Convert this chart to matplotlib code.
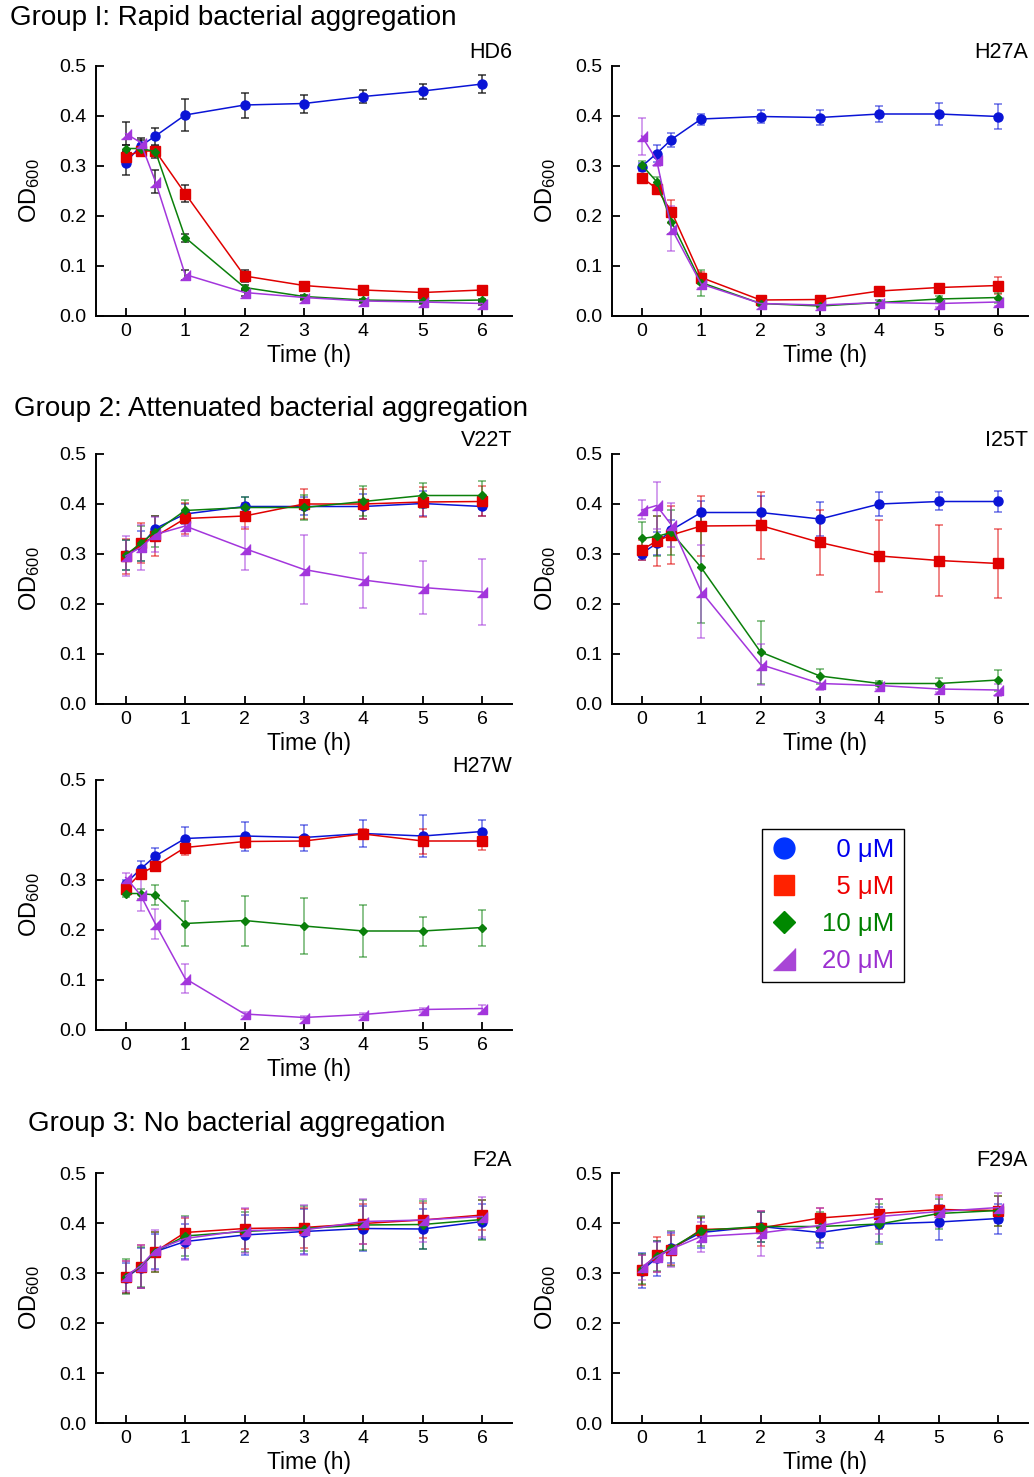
import matplotlib
matplotlib.use('Agg')
import matplotlib.pyplot as plt
from matplotlib.colors import to_rgba
from matplotlib.lines import Line2D

plt.rcParams['font.family'] = ['Liberation Sans', 'DejaVu Sans']
plt.rcParams['mathtext.fontset'] = 'custom'
plt.rcParams['mathtext.rm'] = 'Liberation Sans'
plt.rcParams['mathtext.it'] = 'Liberation Sans:italic'

time_h = [0, 0.25, 0.5, 1, 2, 3, 4, 5, 6]
conc_labels = ['\u20070 \u03bcM', '\u20075 \u03bcM', '10 \u03bcM', '20 \u03bcM']

# rows: 0, 5, 10, 20 uM
hd6_mean = [[0.307, 0.340, 0.360, 0.402, 0.422, 0.425, 0.439, 0.450, 0.464],
            [0.319, 0.330, 0.330, 0.245, 0.080, 0.061, 0.052, 0.047, 0.052],
            [0.335, 0.335, 0.329, 0.157, 0.057, 0.039, 0.032, 0.030, 0.032],
            [0.365, 0.347, 0.269, 0.083, 0.047, 0.037, 0.030, 0.028, 0.025]]
hd6_err = [[0.024, 0.012, 0.017, 0.031, 0.025, 0.018, 0.013, 0.015, 0.017],
           [0.010, 0.008, 0.008, 0.017, 0.012, 0.005, 0.004, 0.004, 0.004],
           [0.008, 0.006, 0.012, 0.008, 0.005, 0.004, 0.003, 0.003, 0.003],
           [0.023, 0.010, 0.022, 0.010, 0.006, 0.004, 0.003, 0.003, 0.003]]

h27a_mean = [[0.299, 0.325, 0.353, 0.394, 0.399, 0.397, 0.404, 0.404, 0.399],
             [0.277, 0.255, 0.209, 0.077, 0.032, 0.033, 0.050, 0.057, 0.061],
             [0.302, 0.269, 0.189, 0.067, 0.025, 0.020, 0.027, 0.034, 0.037],
             [0.360, 0.312, 0.175, 0.064, 0.025, 0.022, 0.027, 0.025, 0.028]]
h27a_err = [[0.008, 0.017, 0.014, 0.011, 0.012, 0.015, 0.016, 0.021, 0.024],
            [0.006, 0.006, 0.023, 0.012, 0.004, 0.004, 0.004, 0.008, 0.017],
            [0.008, 0.010, 0.025, 0.026, 0.004, 0.004, 0.005, 0.006, 0.010],
            [0.037, 0.012, 0.045, 0.008, 0.004, 0.004, 0.006, 0.006, 0.008]]

v22t_mean = [[0.298, 0.316, 0.351, 0.380, 0.395, 0.395, 0.395, 0.401, 0.395],
             [0.296, 0.321, 0.335, 0.371, 0.376, 0.400, 0.400, 0.404, 0.405],
             [0.298, 0.321, 0.345, 0.387, 0.393, 0.393, 0.405, 0.417, 0.417],
             [0.296, 0.313, 0.339, 0.356, 0.311, 0.269, 0.248, 0.233, 0.224]]
v22t_err = [[0.030, 0.030, 0.025, 0.020, 0.018, 0.018, 0.025, 0.025, 0.020],
            [0.035, 0.040, 0.040, 0.030, 0.025, 0.030, 0.030, 0.030, 0.030],
            [0.030, 0.035, 0.030, 0.020, 0.020, 0.025, 0.030, 0.025, 0.028],
            [0.040, 0.045, 0.035, 0.020, 0.043, 0.068, 0.055, 0.052, 0.066]]

i25t_mean = [[0.301, 0.321, 0.348, 0.383, 0.383, 0.370, 0.400, 0.405, 0.405],
             [0.308, 0.326, 0.338, 0.356, 0.357, 0.323, 0.296, 0.287, 0.281],
             [0.331, 0.335, 0.343, 0.273, 0.104, 0.056, 0.041, 0.041, 0.048],
             [0.388, 0.397, 0.358, 0.225, 0.079, 0.041, 0.037, 0.030, 0.028]]
i25t_err = [[0.012, 0.023, 0.020, 0.022, 0.032, 0.034, 0.024, 0.018, 0.021],
            [0.020, 0.050, 0.058, 0.060, 0.067, 0.065, 0.071, 0.071, 0.068],
            [0.032, 0.040, 0.045, 0.110, 0.063, 0.015, 0.005, 0.011, 0.021],
            [0.019, 0.047, 0.044, 0.092, 0.041, 0.013, 0.006, 0.006, 0.012]]

h27w_mean = [[0.293, 0.322, 0.348, 0.383, 0.388, 0.385, 0.393, 0.388, 0.397],
             [0.283, 0.313, 0.328, 0.365, 0.377, 0.378, 0.392, 0.378, 0.378],
             [0.273, 0.273, 0.270, 0.213, 0.219, 0.208, 0.198, 0.198, 0.205],
             [0.305, 0.270, 0.212, 0.103, 0.032, 0.025, 0.031, 0.041, 0.043]]
h27w_err = [[0.008, 0.017, 0.017, 0.024, 0.029, 0.026, 0.027, 0.042, 0.023],
            [0.008, 0.008, 0.008, 0.014, 0.012, 0.010, 0.010, 0.025, 0.017],
            [0.006, 0.010, 0.020, 0.045, 0.050, 0.056, 0.052, 0.029, 0.036],
            [0.010, 0.032, 0.030, 0.029, 0.004, 0.003, 0.004, 0.004, 0.008]]

f2a_mean = [[0.291, 0.311, 0.343, 0.363, 0.376, 0.383, 0.389, 0.388, 0.403],
            [0.293, 0.313, 0.343, 0.381, 0.389, 0.391, 0.399, 0.406, 0.416],
            [0.293, 0.313, 0.343, 0.374, 0.383, 0.389, 0.396, 0.397, 0.407],
            [0.294, 0.314, 0.346, 0.369, 0.385, 0.386, 0.403, 0.406, 0.413]]
f2a_err = [[0.030, 0.040, 0.035, 0.035, 0.040, 0.045, 0.045, 0.040, 0.035],
           [0.032, 0.043, 0.040, 0.030, 0.040, 0.040, 0.040, 0.035, 0.030],
           [0.035, 0.040, 0.040, 0.040, 0.040, 0.045, 0.050, 0.048, 0.040],
           [0.030, 0.043, 0.040, 0.043, 0.045, 0.050, 0.045, 0.043, 0.040]]

f29a_mean = [[0.305, 0.330, 0.350, 0.381, 0.393, 0.381, 0.398, 0.402, 0.409],
             [0.307, 0.337, 0.347, 0.387, 0.390, 0.410, 0.419, 0.427, 0.425],
             [0.308, 0.335, 0.350, 0.385, 0.393, 0.393, 0.398, 0.419, 0.425],
             [0.312, 0.333, 0.348, 0.373, 0.380, 0.395, 0.413, 0.423, 0.431]]
f29a_err = [[0.035, 0.035, 0.030, 0.030, 0.030, 0.030, 0.035, 0.035, 0.030],
            [0.030, 0.035, 0.030, 0.025, 0.035, 0.020, 0.030, 0.030, 0.030],
            [0.030, 0.030, 0.035, 0.030, 0.030, 0.030, 0.040, 0.030, 0.030],
            [0.025, 0.030, 0.035, 0.030, 0.045, 0.035, 0.035, 0.030, 0.030]]

line_colors = ['#0a14d6', '#e00000', '#0b800b', '#a336dc']
legend_colors = ['#0033ff', '#ff2200', '#008800', '#a845d6']
text_colors = ['#0000ee', '#ee0000', '#008000', '#9b30d0']
right_tri = [(-1, -1), (1, -1), (1, 1)]
markers = ['o', 's', 'D', right_tri]
msizes = [6.5, 7, 4.5, 7]

W, H = 1034.0, 1477.0
fig = plt.figure(figsize=(W / 100, H / 100), dpi=100)


def make_axes(left_px, bottom_px):
    return fig.add_axes([left_px / W, 1 - bottom_px / H, 416 / W, 250 / H])


def draw_panel(ax, name, means, errs, dark_err=False):
    for i in range(4):
        ecol = to_rgba('#111111', 0.85) if dark_err else to_rgba(line_colors[i], 0.6)
        ax.errorbar(time_h, means[i], yerr=errs[i], color=line_colors[i],
                    marker=markers[i], ms=msizes[i], lw=1.1, ecolor=ecol,
                    elinewidth=1.1, capsize=3, capthick=1.1, clip_on=False)
    ax.set_xlim(-0.5, 6.5)
    ax.set_ylim(0, 0.5)
    ax.set_xticks(range(7))
    ax.set_yticks([0, 0.1, 0.2, 0.3, 0.4, 0.5])
    ax.set_yticklabels(['0.0', '0.1', '0.2', '0.3', '0.4', '0.5'])
    for s in ['top', 'right']:
        ax.spines[s].set_visible(False)
    for s in ['left', 'bottom']:
        ax.spines[s].set_linewidth(1.4)
    ax.tick_params(direction='in', length=6, width=1.3, labelsize=14)
    ax.tick_params(axis='x', pad=5)
    ax.tick_params(axis='y', pad=7)
    ax.set_xlabel('Time (h)', fontsize=16.5)
    ax.xaxis.set_label_coords(0.513, -0.112)
    ax.set_ylabel(r'OD$_{\mathrm{600}}$', fontsize=17)
    ax.yaxis.set_label_coords(-0.13, 0.5)
    ax.text(1.0, 1.052, name, transform=ax.transAxes, ha='right', va='center',
            fontsize=15.5)


draw_panel(make_axes(96, 316), 'HD6', hd6_mean, hd6_err, dark_err=True)
draw_panel(make_axes(612, 316), 'H27A', h27a_mean, h27a_err)
draw_panel(make_axes(96, 704), 'V22T', v22t_mean, v22t_err)
draw_panel(make_axes(612, 704), 'I25T', i25t_mean, i25t_err)
draw_panel(make_axes(96, 1030), 'H27W', h27w_mean, h27w_err)
draw_panel(make_axes(96, 1423), 'F2A', f2a_mean, f2a_err)
draw_panel(make_axes(612, 1423), 'F29A', f29a_mean, f29a_err)

fig.text(10 / W, 1 - 18 / H, 'Group I: Rapid bacterial aggregation',
         fontsize=20, ha='left', va='center')
fig.text(14 / W, 1 - 409 / H, 'Group 2: Attenuated bacterial aggregation',
         fontsize=20, ha='left', va='center')
fig.text(28 / W, 1 - 1124 / H, 'Group 3: No bacterial aggregation',
         fontsize=20, ha='left', va='center')

handles = [Line2D([], [], ls='none', marker=markers[i], color=legend_colors[i],
                  ms=[15, 15, 11, 16][i]) for i in range(4)]
leg = fig.legend(handles, conc_labels, loc='upper left',
                 bbox_to_anchor=(762 / W, 1 - 829 / H), borderaxespad=0,
                 fontsize=18.5, frameon=True, fancybox=False, edgecolor='black',
                 framealpha=1, handlelength=1.0, handletextpad=1.0,
                 labelspacing=0.5, borderpad=0.35, numpoints=1,
                 labelcolor=text_colors)
leg.get_frame().set_linewidth(1.0)

fig.savefig('out.png', dpi=100)
